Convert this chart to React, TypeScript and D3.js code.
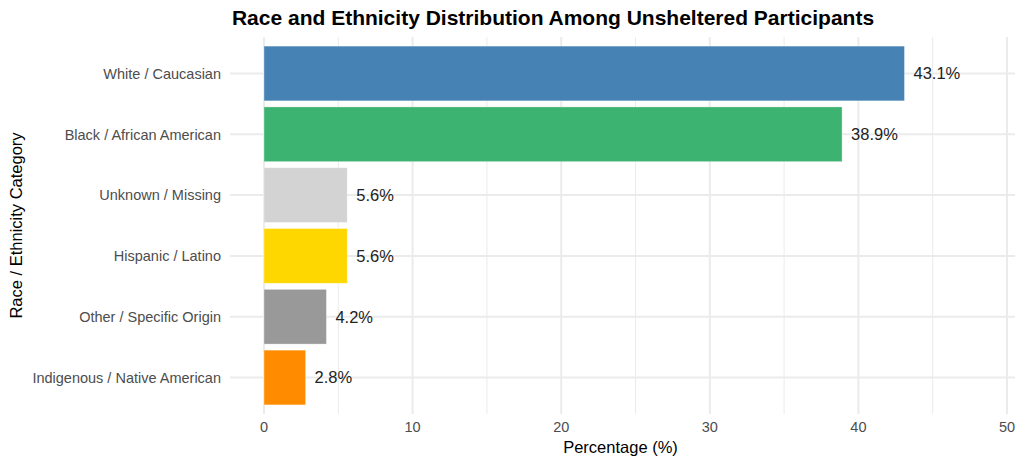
import React, { useEffect, useRef } from "react";
import * as d3 from "d3";

const categories = [
  "White / Caucasian",
  "Black / African American",
  "Unknown / Missing",
  "Hispanic / Latino",
  "Other / Specific Origin",
  "Indigenous / Native American",
];
const percentages = [43.1, 38.9, 5.6, 5.6, 4.2, 2.8];
const barColors = ["#4682B4", "#3CB371", "#D3D3D3", "#FFD700", "#999999", "#FF8C00"];
const xTicks = [0, 10, 20, 30, 40, 50];
const xMinorTicks = [5, 15, 25, 35, 45];

const width = 1024;
const height = 464;
const font = "'Liberation Sans', Arial, Helvetica, sans-serif";

const App = () => {
  const chartRef = useRef<SVGSVGElement | null>(null);

  useEffect(() => {
    document.body.style.margin = "0";
    const svg = d3.select(chartRef.current);
    svg.selectAll("*").remove();

    const panel = { left: 230, right: 1015, top: 37, bottom: 414 };

    const x = d3.scaleLinear().domain([0, 50]).range([264, 1007]);
    const y = d3
      .scaleBand<string>()
      .domain(categories)
      .range([panel.top, panel.bottom])
      .paddingInner(0.1)
      .paddingOuter(0.15);

    const g = svg.append("g");

    // grid lines
    g.selectAll("line.minor")
      .data(xMinorTicks)
      .enter()
      .append("line")
      .attr("x1", (d) => x(d))
      .attr("x2", (d) => x(d))
      .attr("y1", panel.top)
      .attr("y2", panel.bottom)
      .attr("stroke", "#ebebeb")
      .attr("stroke-width", 1);

    g.selectAll("line.major")
      .data(xTicks)
      .enter()
      .append("line")
      .attr("x1", (d) => x(d))
      .attr("x2", (d) => x(d))
      .attr("y1", panel.top)
      .attr("y2", panel.bottom)
      .attr("stroke", "#ebebeb")
      .attr("stroke-width", 2);

    g.selectAll("line.ygrid")
      .data(categories)
      .enter()
      .append("line")
      .attr("x1", panel.left)
      .attr("x2", panel.right)
      .attr("y1", (d) => (y(d) as number) + y.bandwidth() / 2)
      .attr("y2", (d) => (y(d) as number) + y.bandwidth() / 2)
      .attr("stroke", "#ebebeb")
      .attr("stroke-width", 2);

    // bars
    g.selectAll("rect.bar")
      .data(categories)
      .enter()
      .append("rect")
      .attr("x", x(0))
      .attr("y", (d) => y(d) as number)
      .attr("width", (d, i) => x(percentages[i]) - x(0))
      .attr("height", y.bandwidth())
      .attr("fill", (d, i) => barColors[i])
      .attr("stroke", "white")
      .attr("stroke-opacity", 0.4)
      .attr("stroke-width", 0.8);

    // value labels
    g.selectAll("text.value")
      .data(categories)
      .enter()
      .append("text")
      .attr("x", (d, i) => x(percentages[i]) + 9)
      .attr("y", (d) => (y(d) as number) + y.bandwidth() / 2)
      .attr("dy", "0.36em")
      .attr("font-family", font)
      .attr("font-size", "16.5px")
      .attr("fill", "#222")
      .text((d, i) => `${percentages[i].toFixed(1)}%`);

    // y tick labels
    g.selectAll("text.ytick")
      .data(categories)
      .enter()
      .append("text")
      .attr("x", 221)
      .attr("y", (d) => (y(d) as number) + y.bandwidth() / 2)
      .attr("dy", "0.36em")
      .attr("text-anchor", "end")
      .attr("font-family", font)
      .attr("font-size", "14.5px")
      .attr("fill", "#4d4d4d")
      .text((d) => d);

    // x tick labels
    g.selectAll("text.xtick")
      .data(xTicks)
      .enter()
      .append("text")
      .attr("x", (d) => x(d))
      .attr("y", 427)
      .attr("dy", "0.36em")
      .attr("text-anchor", "middle")
      .attr("font-family", font)
      .attr("font-size", "14.5px")
      .attr("fill", "#4d4d4d")
      .text((d) => d);

    // axis titles
    svg
      .append("text")
      .attr("x", (panel.left + panel.right) / 2 - 2)
      .attr("y", 447)
      .attr("dy", "0.36em")
      .attr("text-anchor", "middle")
      .attr("font-family", font)
      .attr("font-size", "16.5px")
      .attr("fill", "#000")
      .text("Percentage (%)");

    svg
      .append("text")
      .attr("transform", `translate(16, ${(panel.top + panel.bottom) / 2}) rotate(-90)`)
      .attr("dy", "0.36em")
      .attr("text-anchor", "middle")
      .attr("font-family", font)
      .attr("font-size", "16.5px")
      .attr("fill", "#000")
      .text("Race / Ethnicity Category");

    // title
    svg
      .append("text")
      .attr("x", 553)
      .attr("y", 17)
      .attr("dy", "0.36em")
      .attr("text-anchor", "middle")
      .attr("font-family", font)
      .attr("font-size", "21px")
      .attr("font-weight", "bold")
      .attr("fill", "#000")
      .text("Race and Ethnicity Distribution Among Unsheltered Participants");
  }, []);

  return (
    <div style={{ width, height, background: "white" }}>
      <svg ref={chartRef} width={width} height={height} style={{ display: "block" }}></svg>
    </div>
  );
};

export default App;
